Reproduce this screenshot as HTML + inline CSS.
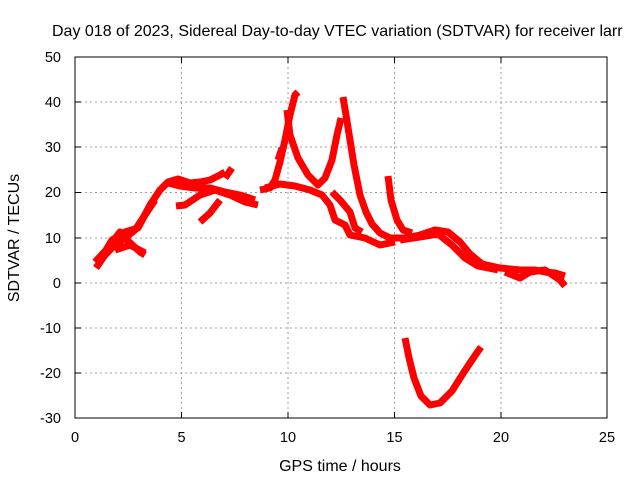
<!DOCTYPE html><html><head><style>body{margin:0;background:#fff}svg{display:block}text{font-family:"Liberation Sans",sans-serif;font-size:14.5px;fill:#000}</style></head><body>
<svg width="640" height="480" xmlns="http://www.w3.org/2000/svg">
<rect width="640" height="480" fill="#fff"/>
<g stroke="#a0a0a0" stroke-dasharray="2,3" stroke-width="1">
<line x1="181.5" y1="57" x2="181.5" y2="418"/><line x1="288" y1="57" x2="288" y2="418"/><line x1="394.5" y1="57" x2="394.5" y2="418"/><line x1="501" y1="57" x2="501" y2="418"/>
<line x1="75" y1="102" x2="607" y2="102"/><line x1="75" y1="147" x2="607" y2="147"/><line x1="75" y1="192.5" x2="607" y2="192.5"/><line x1="75" y1="238" x2="607" y2="238"/><line x1="75" y1="283" x2="607" y2="283"/><line x1="75" y1="328" x2="607" y2="328"/><line x1="75" y1="373" x2="607" y2="373"/>
</g>
<rect x="75" y="57" width="532" height="361" fill="none" stroke="#000"/>
<g stroke="#000"><path d="M75 57h6M75 102h6M75 147h6M75 192.5h6M75 238h6M75 283h6M75 328h6M75 373h6M75 418h6M607 57h-6M607 102h-6M607 147h-6M607 192.5h-6M607 238h-6M607 283h-6M607 328h-6M607 373h-6M607 418h-6M75 418v-6M181.5 418v-6M288 418v-6M394.5 418v-6M501 418v-6M607 418v-6M75 57v6M181.5 57v6M288 57v6M394.5 57v6M501 57v6"/></g>
<g text-anchor="end"><text x="61" y="62">50</text><text x="61" y="107">40</text><text x="61" y="152">30</text><text x="61" y="197">20</text><text x="61" y="243">10</text><text x="61" y="288">0</text><text x="61" y="333">-10</text><text x="61" y="378">-20</text><text x="61" y="423">-30</text></g>
<g text-anchor="middle"><text x="75" y="442">0</text><text x="181.5" y="442">5</text><text x="288" y="442">10</text><text x="394.5" y="442">15</text><text x="501" y="442">20</text><text x="607" y="442">25</text>
<text x="340" y="471" style="font-size:16px">GPS time / hours</text></g>
<text x="52" y="36" style="font-size:16px">Day 018 of 2023, Sidereal Day-to-day VTEC variation (SDTVAR) for receiver larr</text>
<text transform="translate(19,238) rotate(-90)" text-anchor="middle" style="font-size:16px">SDTVAR / TECUs</text>
<g fill="none" stroke="#f00" stroke-width="7" stroke-linejoin="round">
<polyline points="96,268 105,255 115,245 125,238 135,230 143,218 150,205 160,190 168,182 178,179 190,183 200,182 210,180 220,175 225,172"/>
<polyline points="95,262 108,248 120,232 125,238 140,252 145,255" />
<polyline points="100,260 112,240 125,232 138,228 145,215 155,200"/>
<polyline points="115,250 130,245 145,253"/>
<polyline points="176,206 185,205 200,195 215,190 230,195 245,202 258,205"/>
<polyline points="168,183 180,186 195,188 210,188 225,192 240,195 255,200"/>
<polyline points="200,222 210,213 220,200"/>
<polyline points="225,178 232,168"/>
<polyline points="260,190 270,188 275,180 280,162 285,140 290,115 295,95 298,92"/>
<polyline points="278,160 282,148"/>
<polyline points="287,110 290,135 298,158 308,175 318,185 325,178 332,160 337,135 341,118"/>
<polyline points="343,97 346,115 350,140 354,165 360,195 366,212 372,224 380,233 390,238 405,238 420,235 435,230 448,232 460,242 470,254 482,264 500,268 520,270 535,270 545,272 555,273 565,276"/>
<polyline points="265,188 280,184 295,186 310,190 322,195 330,205 335,220 345,225 350,235 365,238 380,245 395,242"/>
<polyline points="332,192 340,200 350,212 355,228 362,232"/>
<polyline points="388,176 391,200 397,220 403,230 412,233"/>
<polyline points="400,240 420,237 438,234 452,245 465,258 478,266 498,270"/>
<polyline points="505,272 520,278 530,272 545,270 560,280 565,286"/>
<polyline points="405,338 409,358 414,378 421,396 430,405 440,403 452,391 464,372 474,357 481,347"/>
</g>
</svg></body></html>
